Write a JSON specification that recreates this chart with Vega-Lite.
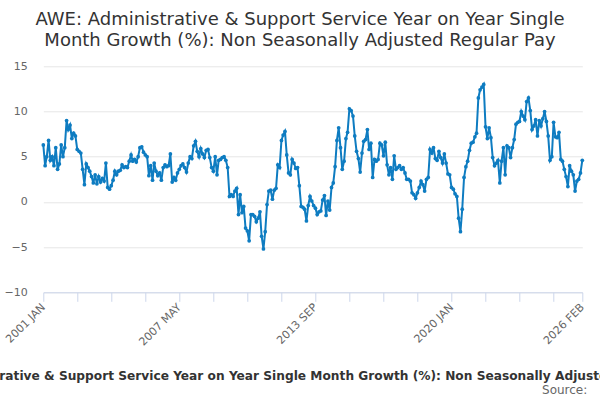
{
  "$schema": "https://vega.github.io/schema/vega-lite/v6.json",
  "width": 539,
  "height": 226,
  "autosize": {"type": "none"},
  "padding": {"left": 43.3, "top": 66.3, "right": 17.7, "bottom": 107.7},
  "background": "white",
  "config": {"view": {"stroke": null}, "font": "DejaVu Sans"},
  "title": {
    "text": ["AWE: Administrative & Support Service Year on Year Single", "Month Growth (%): Non Seasonally Adjusted Regular Pay"],
    "fontSize": 18,
    "fontWeight": "normal",
    "color": "#333333",
    "lineHeight": 21,
    "anchor": "middle",
    "dx": -12.8,
    "offset": 10
  },
  "layer": [
    {
      "data": {
        "values": [
          {"date": "2001-01", "value": 6.3}, {"date": "2001-02", "value": 4.0}, {"date": "2001-03", "value": 5.0}, {"date": "2001-04", "value": 6.8},
          {"date": "2001-05", "value": 4.6}, {"date": "2001-06", "value": 5.0}, {"date": "2001-07", "value": 4.0}, {"date": "2001-08", "value": 6.0},
          {"date": "2001-09", "value": 3.6}, {"date": "2001-10", "value": 4.2}, {"date": "2001-11", "value": 6.3}, {"date": "2001-12", "value": 5.0},
          {"date": "2002-01", "value": 6.0}, {"date": "2002-02", "value": 9.0}, {"date": "2002-03", "value": 8.0}, {"date": "2002-04", "value": 8.5},
          {"date": "2002-05", "value": 7.0}, {"date": "2002-06", "value": 7.6}, {"date": "2002-07", "value": 7.3}, {"date": "2002-08", "value": 5.8},
          {"date": "2002-09", "value": 5.6}, {"date": "2002-10", "value": 5.4}, {"date": "2002-11", "value": 3.6}, {"date": "2002-12", "value": 1.9},
          {"date": "2003-01", "value": 4.2}, {"date": "2003-02", "value": 3.8}, {"date": "2003-03", "value": 3.4}, {"date": "2003-04", "value": 2.8},
          {"date": "2003-05", "value": 2.1}, {"date": "2003-06", "value": 3.0}, {"date": "2003-07", "value": 2.0}, {"date": "2003-08", "value": 2.8},
          {"date": "2003-09", "value": 2.2}, {"date": "2003-10", "value": 2.6}, {"date": "2003-11", "value": 2.3}, {"date": "2003-12", "value": 4.3},
          {"date": "2004-01", "value": 1.6}, {"date": "2004-02", "value": 1.4}, {"date": "2004-03", "value": 1.8}, {"date": "2004-04", "value": 2.4},
          {"date": "2004-05", "value": 3.4}, {"date": "2004-06", "value": 3.0}, {"date": "2004-07", "value": 3.4}, {"date": "2004-08", "value": 3.5},
          {"date": "2004-09", "value": 4.1}, {"date": "2004-10", "value": 3.8}, {"date": "2004-11", "value": 3.9}, {"date": "2004-12", "value": 3.8},
          {"date": "2005-01", "value": 4.5}, {"date": "2005-02", "value": 5.2}, {"date": "2005-03", "value": 4.5}, {"date": "2005-04", "value": 4.7},
          {"date": "2005-05", "value": 4.4}, {"date": "2005-06", "value": 5.0}, {"date": "2005-07", "value": 6.0}, {"date": "2005-08", "value": 6.1},
          {"date": "2005-09", "value": 5.5}, {"date": "2005-10", "value": 5.2}, {"date": "2005-11", "value": 5.0}, {"date": "2005-12", "value": 2.9},
          {"date": "2006-01", "value": 4.0}, {"date": "2006-02", "value": 2.4}, {"date": "2006-03", "value": 4.3}, {"date": "2006-04", "value": 3.4},
          {"date": "2006-05", "value": 2.9}, {"date": "2006-06", "value": 3.2}, {"date": "2006-07", "value": 2.4}, {"date": "2006-08", "value": 3.8},
          {"date": "2006-09", "value": 4.1}, {"date": "2006-10", "value": 3.9}, {"date": "2006-11", "value": 4.0}, {"date": "2006-12", "value": 5.3},
          {"date": "2007-01", "value": 2.2}, {"date": "2007-02", "value": 2.7}, {"date": "2007-03", "value": 2.4}, {"date": "2007-04", "value": 3.2},
          {"date": "2007-05", "value": 3.6}, {"date": "2007-06", "value": 4.0}, {"date": "2007-07", "value": 4.2}, {"date": "2007-08", "value": 3.8},
          {"date": "2007-09", "value": 3.3}, {"date": "2007-10", "value": 4.3}, {"date": "2007-11", "value": 5.0}, {"date": "2007-12", "value": 4.8},
          {"date": "2008-01", "value": 6.2}, {"date": "2008-02", "value": 6.7}, {"date": "2008-03", "value": 5.6}, {"date": "2008-04", "value": 5.0},
          {"date": "2008-05", "value": 5.9}, {"date": "2008-06", "value": 5.3}, {"date": "2008-07", "value": 4.9}, {"date": "2008-08", "value": 5.7},
          {"date": "2008-09", "value": 5.8}, {"date": "2008-10", "value": 4.9}, {"date": "2008-11", "value": 3.8}, {"date": "2008-12", "value": 3.4},
          {"date": "2009-01", "value": 5.0}, {"date": "2009-02", "value": 3.0}, {"date": "2009-03", "value": 4.6}, {"date": "2009-04", "value": 4.7},
          {"date": "2009-05", "value": 4.9}, {"date": "2009-06", "value": 5.0}, {"date": "2009-07", "value": 4.6}, {"date": "2009-08", "value": 3.8},
          {"date": "2009-09", "value": 0.6}, {"date": "2009-10", "value": 0.8}, {"date": "2009-11", "value": 0.6}, {"date": "2009-12", "value": 1.2},
          {"date": "2010-01", "value": 1.5}, {"date": "2010-02", "value": -1.4}, {"date": "2010-03", "value": 0.8}, {"date": "2010-04", "value": -1.2},
          {"date": "2010-05", "value": -0.5}, {"date": "2010-06", "value": -2.9}, {"date": "2010-07", "value": -3.2}, {"date": "2010-08", "value": -4.3},
          {"date": "2010-09", "value": -1.4}, {"date": "2010-10", "value": -1.4}, {"date": "2010-11", "value": -1.6}, {"date": "2010-12", "value": -2.2},
          {"date": "2011-01", "value": -1.8}, {"date": "2011-02", "value": -1.1}, {"date": "2011-03", "value": -3.8}, {"date": "2011-04", "value": -5.2},
          {"date": "2011-05", "value": -3.3}, {"date": "2011-06", "value": -0.3}, {"date": "2011-07", "value": 1.2}, {"date": "2011-08", "value": 1.3},
          {"date": "2011-09", "value": 0.3}, {"date": "2011-10", "value": 1.3}, {"date": "2011-11", "value": 1.5}, {"date": "2011-12", "value": 4.1},
          {"date": "2012-01", "value": 3.8}, {"date": "2012-02", "value": 6.8}, {"date": "2012-03", "value": 7.4}, {"date": "2012-04", "value": 7.8},
          {"date": "2012-05", "value": 5.2}, {"date": "2012-06", "value": 3.2}, {"date": "2012-07", "value": 3.0}, {"date": "2012-08", "value": 4.7},
          {"date": "2012-09", "value": 4.3}, {"date": "2012-10", "value": 3.7}, {"date": "2012-11", "value": 3.8}, {"date": "2012-12", "value": 1.8},
          {"date": "2013-01", "value": -0.5}, {"date": "2013-02", "value": -0.6}, {"date": "2013-03", "value": -0.8}, {"date": "2013-04", "value": -2.1},
          {"date": "2013-05", "value": -0.4}, {"date": "2013-06", "value": 0.6}, {"date": "2013-07", "value": 0.1}, {"date": "2013-08", "value": -0.4},
          {"date": "2013-09", "value": -0.7}, {"date": "2013-10", "value": -1.4}, {"date": "2013-11", "value": -1.1}, {"date": "2013-12", "value": -1.0},
          {"date": "2014-01", "value": 0.2}, {"date": "2014-02", "value": 0.7}, {"date": "2014-03", "value": -1.5}, {"date": "2014-04", "value": 0.1},
          {"date": "2014-05", "value": -0.9}, {"date": "2014-06", "value": 1.6}, {"date": "2014-07", "value": 2.1}, {"date": "2014-08", "value": 3.9},
          {"date": "2014-09", "value": 6.8}, {"date": "2014-10", "value": 8.2}, {"date": "2014-11", "value": 6.0}, {"date": "2014-12", "value": 3.6},
          {"date": "2015-01", "value": 4.5}, {"date": "2015-02", "value": 7.0}, {"date": "2015-03", "value": 7.7}, {"date": "2015-04", "value": 10.3},
          {"date": "2015-05", "value": 10.1}, {"date": "2015-06", "value": 9.5}, {"date": "2015-07", "value": 7.3}, {"date": "2015-08", "value": 5.6},
          {"date": "2015-09", "value": 4.8}, {"date": "2015-10", "value": 3.3}, {"date": "2015-11", "value": 5.4}, {"date": "2015-12", "value": 6.7},
          {"date": "2016-01", "value": 6.9}, {"date": "2016-02", "value": 8.0}, {"date": "2016-03", "value": 5.8}, {"date": "2016-04", "value": 6.5},
          {"date": "2016-05", "value": 2.7}, {"date": "2016-06", "value": 4.7}, {"date": "2016-07", "value": 4.5}, {"date": "2016-08", "value": 4.7},
          {"date": "2016-09", "value": 6.5}, {"date": "2016-10", "value": 6.3}, {"date": "2016-11", "value": 5.1}, {"date": "2016-12", "value": 6.6},
          {"date": "2017-01", "value": 4.1}, {"date": "2017-02", "value": 3.0}, {"date": "2017-03", "value": 3.8}, {"date": "2017-04", "value": 2.5},
          {"date": "2017-05", "value": 5.1}, {"date": "2017-06", "value": 3.6}, {"date": "2017-07", "value": 3.8}, {"date": "2017-08", "value": 4.0},
          {"date": "2017-09", "value": 3.6}, {"date": "2017-10", "value": 3.8}, {"date": "2017-11", "value": 3.2}, {"date": "2017-12", "value": 2.5},
          {"date": "2018-01", "value": 2.5}, {"date": "2018-02", "value": 2.3}, {"date": "2018-03", "value": 1.0}, {"date": "2018-04", "value": 0.8},
          {"date": "2018-05", "value": 0.4}, {"date": "2018-06", "value": 1.0}, {"date": "2018-07", "value": 1.6}, {"date": "2018-08", "value": 2.3},
          {"date": "2018-09", "value": 1.9}, {"date": "2018-10", "value": 1.2}, {"date": "2018-11", "value": 2.5}, {"date": "2018-12", "value": 2.7},
          {"date": "2019-01", "value": 5.8}, {"date": "2019-02", "value": 5.4}, {"date": "2019-03", "value": 6.0}, {"date": "2019-04", "value": 4.8},
          {"date": "2019-05", "value": 4.6}, {"date": "2019-06", "value": 5.6}, {"date": "2019-07", "value": 4.9}, {"date": "2019-08", "value": 4.3},
          {"date": "2019-09", "value": 5.3}, {"date": "2019-10", "value": 4.3}, {"date": "2019-11", "value": 3.1}, {"date": "2019-12", "value": 3.0},
          {"date": "2020-01", "value": 1.6}, {"date": "2020-02", "value": 1.4}, {"date": "2020-03", "value": 0.9}, {"date": "2020-04", "value": 0.6},
          {"date": "2020-05", "value": -1.8}, {"date": "2020-06", "value": -3.3}, {"date": "2020-07", "value": -0.8}, {"date": "2020-08", "value": 2.7},
          {"date": "2020-09", "value": 3.9}, {"date": "2020-10", "value": 4.5}, {"date": "2020-11", "value": 5.7}, {"date": "2020-12", "value": 6.5},
          {"date": "2021-01", "value": 6.6}, {"date": "2021-02", "value": 7.2}, {"date": "2021-03", "value": 7.6}, {"date": "2021-04", "value": 11.5},
          {"date": "2021-05", "value": 12.4}, {"date": "2021-06", "value": 12.7}, {"date": "2021-07", "value": 13.0}, {"date": "2021-08", "value": 8.3},
          {"date": "2021-09", "value": 7.0}, {"date": "2021-10", "value": 8.2}, {"date": "2021-11", "value": 7.1}, {"date": "2021-12", "value": 4.9},
          {"date": "2022-01", "value": 4.0}, {"date": "2022-02", "value": 4.3}, {"date": "2022-03", "value": 4.6}, {"date": "2022-04", "value": 2.1},
          {"date": "2022-05", "value": 4.5}, {"date": "2022-06", "value": 6.0}, {"date": "2022-07", "value": 3.0}, {"date": "2022-08", "value": 6.2},
          {"date": "2022-09", "value": 6.0}, {"date": "2022-10", "value": 4.9}, {"date": "2022-11", "value": 6.0}, {"date": "2022-12", "value": 6.9},
          {"date": "2023-01", "value": 8.6}, {"date": "2023-02", "value": 8.8}, {"date": "2023-03", "value": 8.9}, {"date": "2023-04", "value": 10.0},
          {"date": "2023-05", "value": 9.5}, {"date": "2023-06", "value": 9.1}, {"date": "2023-07", "value": 11.1}, {"date": "2023-08", "value": 11.5},
          {"date": "2023-09", "value": 10.1}, {"date": "2023-10", "value": 8.0}, {"date": "2023-11", "value": 8.4}, {"date": "2023-12", "value": 9.1},
          {"date": "2024-01", "value": 7.3}, {"date": "2024-02", "value": 9.0}, {"date": "2024-03", "value": 8.4}, {"date": "2024-04", "value": 9.2},
          {"date": "2024-05", "value": 10.0}, {"date": "2024-06", "value": 8.9}, {"date": "2024-07", "value": 7.3}, {"date": "2024-08", "value": 4.6},
          {"date": "2024-09", "value": 5.0}, {"date": "2024-10", "value": 8.8}, {"date": "2024-11", "value": 7.2}, {"date": "2024-12", "value": 7.1},
          {"date": "2025-01", "value": 7.7}, {"date": "2025-02", "value": 4.7}, {"date": "2025-03", "value": 4.5}, {"date": "2025-04", "value": 3.6},
          {"date": "2025-05", "value": 2.8}, {"date": "2025-06", "value": 1.7}, {"date": "2025-07", "value": 4.0}, {"date": "2025-08", "value": 3.4},
          {"date": "2025-09", "value": 3.0}, {"date": "2025-10", "value": 1.2}, {"date": "2025-11", "value": 2.3}, {"date": "2025-12", "value": 2.5},
          {"date": "2026-01", "value": 3.2}, {"date": "2026-02", "value": 4.6}
        ]
      },
      "mark": {
        "type": "line",
        "color": "#0e7cc1",
        "strokeWidth": 2,
        "point": {"filled": true, "size": 14, "color": "#0e7cc1"}
      },
      "encoding": {
        "x": {
          "field": "date",
          "type": "temporal",
          "scale": {
            "type": "utc",
            "nice": false,
            "domain": [
              {"year": 2001, "month": 1, "date": 1, "utc": true},
              {"year": 2026, "month": 2, "date": 1, "utc": true}
            ]
          },
          "axis": {
            "values": [
              {"year": 2001, "month": 1, "date": 1, "utc": true},
              {"year": 2002, "month": 8, "date": 1, "utc": true},
              {"year": 2004, "month": 3, "date": 1, "utc": true},
              {"year": 2005, "month": 10, "date": 1, "utc": true},
              {"year": 2007, "month": 5, "date": 1, "utc": true},
              {"year": 2008, "month": 12, "date": 1, "utc": true},
              {"year": 2010, "month": 7, "date": 1, "utc": true},
              {"year": 2012, "month": 2, "date": 1, "utc": true},
              {"year": 2013, "month": 9, "date": 1, "utc": true},
              {"year": 2015, "month": 4, "date": 1, "utc": true},
              {"year": 2016, "month": 11, "date": 1, "utc": true},
              {"year": 2018, "month": 6, "date": 1, "utc": true},
              {"year": 2020, "month": 1, "date": 1, "utc": true},
              {"year": 2021, "month": 8, "date": 1, "utc": true},
              {"year": 2023, "month": 3, "date": 1, "utc": true},
              {"year": 2024, "month": 10, "date": 1, "utc": true},
              {"year": 2026, "month": 2, "date": 1, "utc": true}
            ],
            "labelExpr": "indexof(['2001-01','2007-05','2013-09','2020-01','2026-02'], utcFormat(datum.value, '%Y-%m')) >= 0 ? upper(utcFormat(datum.value, '%Y %b')) : ''",
            "labelAngle": -45,
            "labelAlign": "right",
            "labelBaseline": "middle",
            "labelColor": "#666666",
            "labelFontSize": 11,
            "labelOverlap": false,
            "labelBound": false,
            "labelFlush": false,
            "labelPadding": 4,
            "tickColor": "#ccd6eb",
            "tickSize": 9,
            "domainColor": "#ccd6eb",
            "grid": false,
            "title": "AWE: Administrative & Support Service Year on Year Single Month Growth (%): Non Seasonally Adjusted Regular Pay",
            "titleFontWeight": "bold",
            "titleFontSize": 12.2,
            "titleColor": "#333333",
            "titleX": 256.7,
            "titleY": 87,
            "titleAlign": "center",
            "titleBaseline": "alphabetic"
          }
        },
        "y": {
          "field": "value",
          "type": "quantitative",
          "scale": {"domain": [-10, 15], "nice": false},
          "axis": {
            "values": [-10, -5, 0, 5, 10, 15],
            "title": null,
            "domain": false,
            "ticks": false,
            "labelPadding": 16,
            "labelColor": "#666666",
            "labelFontSize": 11,
            "gridColor": "#e6e6e6"
          }
        }
      }
    },
    {
      "data": {"values": [{"label": "Source:"}]},
      "mark": {"type": "text", "align": "right", "baseline": "middle", "fontSize": 12, "color": "#666666"},
      "encoding": {
        "x": {"value": 544},
        "y": {"value": 324},
        "text": {"field": "label"}
      }
    }
  ]
}
